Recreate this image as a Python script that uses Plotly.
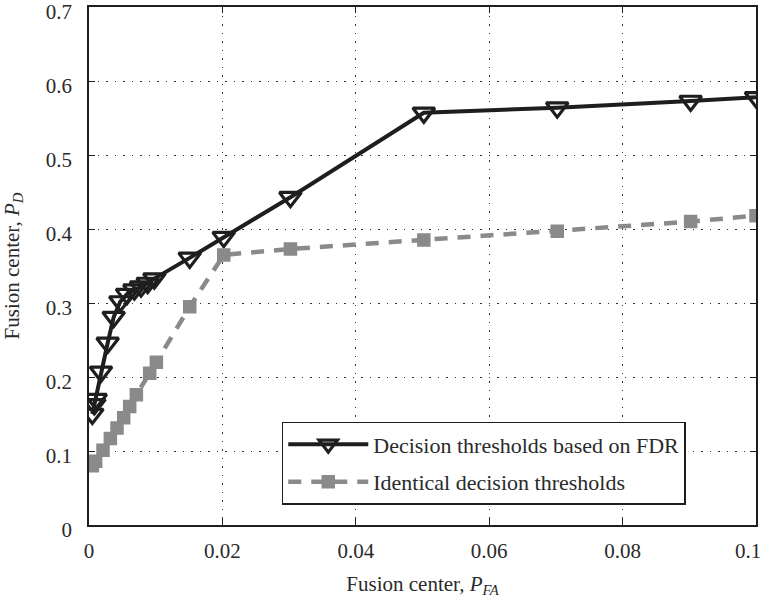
import plotly.graph_objects as go

# Data
fdr_x = [0.0005, 0.0008, 0.0010, 0.0018, 0.0028, 0.0037, 0.0047, 0.0057, 0.0068,
         0.0078, 0.0088, 0.0098, 0.0151, 0.0202, 0.0302, 0.0502, 0.0702, 0.0902, 0.1000]
fdr_y = [0.150, 0.163, 0.170, 0.207, 0.246, 0.281, 0.302, 0.312, 0.318,
         0.322, 0.327, 0.333, 0.361, 0.389, 0.443, 0.557, 0.564, 0.573, 0.578]

id_x = [0.0005, 0.0010, 0.0021, 0.0032, 0.0042, 0.0052, 0.0061, 0.0071, 0.0091,
        0.0101, 0.0151, 0.0202, 0.0302, 0.0502, 0.0702, 0.0902, 0.1000]
id_y = [0.080, 0.086, 0.101, 0.117, 0.131, 0.145, 0.160, 0.176, 0.205,
        0.220, 0.295, 0.365, 0.373, 0.385, 0.397, 0.410, 0.418]

x_ticks = [0, 0.02, 0.04, 0.06, 0.08, 0.1]
x_tick_labels = ["0", "0.02", "0.04", "0.06", "0.08", "0.1\u00a0\u00a0\u00a0"]
y_ticks = [0, 0.1, 0.2, 0.3, 0.4, 0.5, 0.6, 0.7]
y_tick_labels = ["0", "0.1", "0.2", "0.3", "0.4", "0.5", "0.6", "0.7"]

FONT = "Liberation Serif"
GRAY = "#8a8a8a"
INK = "#1e1e1e"
TXT = "#2a2a2a"

fig = go.Figure()
fig.add_trace(go.Scatter(
    x=fdr_x, y=fdr_y, mode="lines+markers",
    name="Decision thresholds based on FDR", legendgroup="a",
    line=dict(color=INK, width=4),
    marker=dict(symbol="triangle-down-open", size=19, color=INK,
                line=dict(width=3.2, color=INK)),
))
fig.add_trace(go.Scatter(
    x=id_x, y=id_y, mode="lines+markers",
    name="Identical decision thresholds", legendgroup="b",
    line=dict(color=GRAY, width=4.5, dash="13px,10px"),
    marker=dict(symbol="square", size=12, color=GRAY,
                line=dict(width=1.5, color=GRAY)),
))

axis_common = dict(
    showline=True, linecolor=INK, linewidth=1.8, mirror="ticks",
    ticks="inside", ticklen=6, tickcolor=INK,
    showgrid=True, gridcolor="#333333", griddash="1.5px,7px", gridwidth=1.2,
    zeroline=False, ticklabeloverflow="allow",
    tickfont=dict(family=FONT, size=21, color=TXT),
)

fig.update_xaxes(range=[0, 0.1], tickvals=x_ticks, ticktext=x_tick_labels,
                 ticklabelstandoff=6,
                 title=dict(text="Fusion center, <i>P</i><sub><i>FA</i></sub>",
                            font=dict(family=FONT, size=21, color=TXT),
                            standoff=14),
                 **axis_common)
fig.update_yaxes(range=[0, 0.7], tickvals=y_ticks, ticktext=y_tick_labels,
                 ticklabelstandoff=11, ticklabelshift=5,
                 title=dict(text="Fusion center, <i>P</i><sub><i>D</i></sub>",
                            font=dict(family=FONT, size=21, color=TXT),
                            standoff=22),
                 **axis_common)

fig.update_layout(
    width=761, height=601,
    margin=dict(l=89, r=5, t=7, b=76, autoexpand=False),
    plot_bgcolor="white", paper_bgcolor="white",
    font=dict(family=FONT, color=TXT),
    legend=dict(x=0.289, y=0.199, xanchor="left", yanchor="top",
                bgcolor="white", bordercolor=INK, borderwidth=1.5,
                font=dict(family=FONT, size=22, color=TXT),
                itemwidth=80, tracegroupgap=6),
    showlegend=True,
)

fig.write_html("out.html")
